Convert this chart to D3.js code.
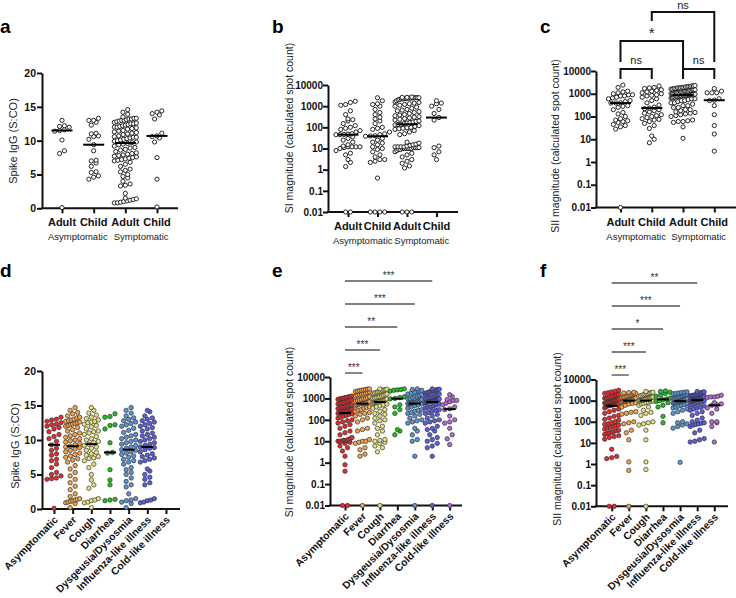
<!DOCTYPE html>
<html><head><meta charset="utf-8">
<script src="https://cdn.jsdelivr.net/npm/d3@7"></script>
<style>body{margin:0;background:#fff}svg{display:block}</style>
</head><body><svg id="c" width="736" height="598"></svg>
<script>
// ---------------- DATA ----------------
const groupKeys = ["asymAdult","asymChild","sympAdult","sympChild"];
const groupLabels = ["Adult","Child","Adult","Child"];
const statusLabels = ["Asymptomatic","Symptomatic"];
const symptoms = ["Asymptomatic","Fever","Cough","Diarrhea","Dysgeusia/Dysosmia","Influenza-like illness","Cold-like illness"];
const linearTicks = [0,5,10,15,20];
const logTicks = [0.01,0.1,1,10,100,1000,10000];

// panel a: Spike IgG (S:CO)
const aAsymAdult = [13.0,12.2,12.0,12.1,11.6,11.5,11.4,10.1,8.5,8.1,0.1];
const aAsymChild = [13.3,13.0,13.0,12.7,12.3,11.1,11.0,10.7,10.6,10.2,9.4,8.5,7.1,7.0,6.7,6.2,5.4,5.3,4.8,4.6,4.3];
const aSympAdult = [14.6,14.2,13.9,13.5,13.3,13.3,13.2,13.2,13.1,13.0,13.0,12.9,12.8,12.7,12.6,12.5,12.5,12.4,12.3,12.2,12.1,12.0,12.0,11.9,11.8,11.7,11.5,11.4,11.3,11.2,11.1,11.0,10.9,10.7,10.6,10.5,10.5,10.4,10.3,10.2,10.1,10.0,9.9,9.8,9.7,9.6,9.5,9.4,9.2,9.0,8.9,8.7,8.6,8.4,8.2,8.1,8.0,7.9,7.8,7.7,7.6,7.5,7.4,7.3,7.2,7.1,7.0,6.8,6.5,6.2,5.8,5.6,5.4,5.0,4.7,4.5,4.0,3.6,3.4,3.3,2.2,1.5,1.4,1.3,1.2,1.1,1.0,0.9,0.8,0.8];
const aSympChild = [14.4,14.2,14.0,13.8,13.2,11.1,10.7,10.6,10.4,9.8,7.5,4.3,0.2];

// panel b: SI magnitude
const bAsymAdult = [1700,1500,1200,1100,600,400,250,230,200,150,120,100,90,80,70,60,50,48,45,45,46,35,30,25,20,15,13,12,12,12,12,11,10,8,6,5,3,2.2,1.4,0.01,0.01];
const bAsymChild = [2500,1800,1300,1200,1000,700,500,400,300,250,200,150,100,90,80,60,50,45,40,38,39,30,25,20,18,15,12,10,9,7,5,4,3,3,2.5,2.2,0.4,0.01,0.01,0.01,0.01];
const bSympAdult = [2700,2600,2600,2500,2500,2500,2500,2500,2400,2400,2400,2300,2300,2200,2200,2100,2000,1800,1600,1500,1400,1300,1200,1100,1000,900,800,700,650,600,550,500,450,400,380,350,320,300,280,260,240,220,200,190,180,170,160,150,140,135,130,120,110,100,95,90,85,80,70,60,50,45,20,18,16,15,14,13,12,12,12,12,11,11,11,11,10,10,10,10,10,10,9,9,8,7,6,5,4,3,2.5,2,1.5,1.2,0.01,0.01,0.01];
const bSympChild = [1800,1400,1300,1000,700,450,290,220,13,11,7,5,3];

// panel c: SII magnitude
const cAsymAdult = [2400,1900,1300,1200,1100,1000,900,900,800,800,700,650,600,500,450,400,395,390,300,280,250,200,150,130,100,80,70,65,60,55,45,40,35,28,0.01];
const cAsymChild = [2200,1900,1800,1700,1500,1400,1300,1200,1100,1000,900,850,800,700,600,500,400,320,260,235,220,200,180,160,140,120,110,100,90,80,75,70,60,50,40,30,14,10,7];
const cSympAdult = [2300,2200,2200,2100,2100,2000,2000,1900,1900,1800,1800,1800,1700,1700,1600,1600,1500,1500,1500,1400,1400,1300,1300,1300,1300,1200,1200,1200,1100,1100,1100,1000,1000,1000,1000,950,950,950,900,900,900,900,850,850,850,800,800,800,750,750,700,700,650,650,600,600,550,500,500,450,400,400,350,300,300,250,250,200,200,180,160,150,140,130,120,110,100,70,65,60,60,55,35,11];
const cSympChild = [1700,1300,1100,1100,1100,600,520,500,300,120,40,17,3];
const cBracketLabels = ["ns","ns","*","ns"];

// panel d: Spike IgG by symptom
const dAsym = [13.3,13.0,12.9,12.7,12.5,12.3,12.2,12.0,11.8,11.6,11.2,10.8,10.5,10.2,9.8,9.3,8.8,8.5,8.0,7.8,7.2,7.0,6.5,6.0,5.3,5.0,4.8,4.5,4.4,4.3,0.1];
const dFever = [14.7,14.3,14.0,13.8,13.5,13.3,13.2,13.0,12.9,12.8,12.7,12.6,12.5,12.4,12.3,12.2,12.1,12.0,11.8,11.5,11.3,11.0,10.8,10.6,10.4,10.2,10.0,9.9,9.7,9.5,9.3,9.1,9.0,8.9,8.7,8.5,8.3,8.1,7.9,7.7,7.5,7.3,7.1,6.8,6.3,5.8,5.3,4.8,4.3,3.8,3.3,2.8,2.2,1.8,1.5,1.4,1.3,1.2,1.1,1.0,0.9,0.8,0.2];
const dCough = [14.7,14.3,13.9,13.6,13.3,13.1,12.9,12.7,12.6,12.5,12.3,12.1,11.9,11.6,11.3,11.2,11.0,10.8,10.5,10.2,10.0,9.8,9.6,9.4,9.2,9.0,8.8,8.5,8.2,8.0,7.8,7.6,7.4,7.3,7.0,6.5,6.0,5.0,4.2,3.5,3.0,1.5,1.3,1.2,1.0,0.9,0.2];
const dDiarrhea = [13.8,13.4,13.3,12.2,12.1,11.6,9.6,8.2,8.1,5.7,4.2,3.5,1.4,1.3,1.2];
const dDysg = [14.7,14.3,13.9,13.5,13.2,13.0,12.8,12.6,12.4,12.2,12.0,11.7,11.4,11.1,10.8,10.6,10.4,10.2,10.0,9.8,9.6,9.4,9.2,9.0,8.8,8.6,8.5,8.3,8.1,7.9,7.7,7.5,7.2,7.0,6.8,6.5,6.0,5.7,5.3,5.0,4.5,4.0,3.5,3.2,2.2,1.5,1.3,1.2,1.0,0.8,0.2];
const dInfl = [14.3,14.1,13.5,13.2,13.0,12.8,12.6,12.4,12.2,12.0,11.8,11.6,11.3,11.0,10.8,10.6,10.4,10.2,10.0,9.8,9.6,9.4,9.2,9.0,8.9,8.8,8.6,8.3,8.0,7.8,7.6,7.4,7.2,7.0,6.8,5.8,5.5,5.0,4.6,4.3,3.8,3.5,1.5,1.3,1.2,1.0,0.9];
const dCold = [];

// panel e: SI magnitude by symptom
const eAsym = [1300,1200,1200,1100,1100,1000,1000,950,900,850,800,750,700,650,600,600,550,500,500,450,450,400,400,380,350,330,320,300,300,280,270,260,250,240,230,210,200,190,180,160,150,130,120,100,90,80,70,60,50,40,30,25,20,15,13,12,11,11,11,10,10,10,9,8,6,5,3.5,2,0.8,0.4,0.01,0.01];
const eFever = [2800,2700,2600,2500,2400,2300,2200,2100,2000,1900,1800,1700,1600,1500,1400,1300,1200,1100,1000,950,900,850,800,750,700,680,650,620,600,580,570,550,520,500,450,400,380,350,300,280,250,220,200,180,150,120,100,80,40,35,30,12,10,10,9,8,5,4,2.5,2,0.01];
const eCough = [2800,2700,2600,2500,2400,2200,2100,2000,1900,1800,1700,1600,1500,1400,1300,1200,1150,1100,1050,1000,950,900,870,850,820,800,780,750,720,700,680,650,620,600,550,500,450,400,350,300,250,200,180,150,120,100,90,70,50,40,30,20,12,11,10,9,8,6,5,3.2,0.01];
const eDiarrhea = [2800,2600,2500,2400,2200,1200,1100,1000,950,500,400,300,200,35,30,20];
const eDysg = [2800,2600,2400,2200,2000,1800,1600,1500,1400,1300,1200,1100,1000,950,900,850,800,750,700,680,660,640,620,600,580,570,550,500,450,400,350,300,280,250,220,200,180,150,120,100,90,80,70,40,30,20,12,10,2,0.01];
const eInfl = [2800,2700,2600,2500,2400,2300,2200,2100,2000,1900,1800,1700,1600,1500,1400,1300,1200,1150,1100,1050,1000,950,900,880,860,840,820,800,780,760,740,720,710,700,690,680,660,640,600,550,500,450,400,380,350,300,280,250,220,200,180,150,120,100,90,80,70,50,40,35,30,20,15,12,10,8,6,5,2,0.01];
const eCold = [1500,1200,900,800,800,700,600,500,400,330,300,150,100,80,70,40,20,13,7,0.01];
const eSigTargets = ["Influenza-like illness","Dysgeusia/Dysosmia","Diarrhea","Cough","Fever"];
const eSigLabels = ["***","***","**","***","***"];

// panel f: SII magnitude by symptom
const fAsym = [3100,2800,2600,2400,2200,2000,1900,1800,1700,1600,1500,1400,1300,1300,1200,1200,1100,1100,1000,1000,950,900,900,850,850,800,800,750,750,700,700,680,660,650,640,620,600,590,580,560,500,450,400,350,300,250,200,180,150,130,120,100,90,80,75,70,65,60,55,50,45,40,38,35,32,30,28,25,22,20,18,15,5,2.3,2.0,1.8,0.01,0.01];
const fFever = [2500,2400,2300,2200,2100,2000,1900,1800,1700,1600,1500,1450,1400,1350,1300,1250,1200,1150,1100,1080,1050,1020,1000,980,950,900,850,800,750,700,600,500,300,280,250,230,100,90,80,40,30,14,1.26,0.5,0.01];
const fCough = [2700,2500,2400,2300,2200,2100,2000,1900,1800,1700,1600,1500,1450,1400,1350,1300,1250,1200,1150,1100,1050,1020,1000,980,950,900,850,800,750,700,600,500,350,280,250,200,100,90,80,70,40,14,1.26,0.55,0.01];
const fDiarrhea = [2900,2700,2500,2200,1800,1600,1300,1200,1100,1000,900,800,600,500,180,90];
const fDysg = [2600,2500,2400,2300,2200,2100,2000,1900,1800,1700,1600,1500,1400,1350,1300,1250,1200,1150,1100,1050,1000,980,950,920,900,850,800,750,700,650,600,550,500,450,400,350,300,250,100,90,80,70,60,50,1.2];
const fInfl = [2700,2600,2500,2400,2300,2200,2100,2000,1900,1850,1800,1750,1700,1650,1600,1550,1500,1450,1400,1350,1300,1250,1200,1180,1160,1140,1120,1100,1090,1080,1070,1060,1050,1000,950,900,850,800,750,700,650,600,550,500,450,400,350,300,250,200,150,120,100,90,85,80,75,70,60,40,30,16,14,12,11];
const fCold = [1800,1600,1500,1500,1400,800,700,650,600,450,400,250,100,100,90,60,11];
const fSigTargets = ["Influenza-like illness","Dysgeusia/Dysosmia","Diarrhea","Cough","Fever"];
const fSigLabels = ["**","***","*","***","***"];

const symptomColors = ["#e62a2e","#f4a24c","#e8e27c","#1ec31e","#5b95d8","#5a5ee6","#b468d6"];

// ---------------- DRAWING ----------------
const FONT = "Arial, 'Liberation Sans', Helvetica, sans-serif";
const svg = d3.select("#c").attr("font-family", FONT);

// Prism-like row scatter: points grouped in rows by pixel height, each row centred and compressed to a max half-width
function scatterRows(vals, y, cx, r, maxHalf){
  const binH = 2*r;
  const pts = vals.map(v => ({v, y: y(v)})).sort((a,b) => b.y - a.y);
  const rows = [];
  let cur = null;
  for (const p of pts){
    if (!cur || cur.y0 - p.y > binH){ cur = {y0: p.y, pts: []}; rows.push(cur); }
    cur.pts.push(p);
  }
  const out = [];
  for (const row of rows){
    const n = row.pts.length;
    const s = n > 1 ? Math.min(2*r + 0.6, 2*maxHalf/(n-1)) : 0;
    row.pts.forEach((p,j) => out.push({v:p.v, x: cx + (j - (n-1)/2)*s, y: p.y}));
  }
  return out;
}

function panel(c){
  const g = svg.append("g");
  const y = c.log ? d3.scaleLog().domain([0.01,10000]).range(c.yRange)
                  : d3.scaleLinear().domain([0,20]).range(c.yRange);
  const x = d3.scalePoint().domain(c.keys).range(c.xRange);
  const baseY = c.yRange[0];

  g.append("line").attr("x1", c.axisX - 1).attr("x2", c.axisEnd)
    .attr("y1", baseY).attr("y2", baseY).attr("stroke","#111").attr("stroke-width",2);
  const xg = g.append("g").attr("transform",`translate(0,${baseY})`)
    .call(d3.axisBottom(x).tickSize(5).tickSizeOuter(0).tickFormat(""));
  xg.select(".domain").remove();
  xg.selectAll(".tick line").attr("stroke","#111").attr("stroke-width",2);

  const yg = g.append("g").attr("transform",`translate(${c.axisX},0)`)
    .call(d3.axisLeft(y).tickValues(c.ticks).tickFormat(d => String(d)).tickSize(5).tickSizeOuter(0));
  yg.attr("font-family", FONT);
  yg.select(".domain").attr("stroke","#111").attr("stroke-width",2);
  yg.selectAll(".tick line").attr("stroke","#111").attr("stroke-width",2);
  yg.selectAll(".tick text").attr("x",c.log ? -5 : -6).attr("font-size",c.log ? 10 : 10.5).attr("font-weight","bold").attr("fill","#111");

  g.append("text").attr("transform",`translate(${c.titleX},${c.titleY}) rotate(-90)`)
    .attr("text-anchor","middle").attr("dy","0.35em").attr("font-size", c.titleSize)
    .attr("fill","#222").text(c.title);

  if (c.rotated){
    c.keys.forEach((k,i) => {
      g.append("text").attr("transform",`translate(${x(k)+4.5},${baseY+11.5}) rotate(-45)`)
        .attr("text-anchor","end").attr("font-size",10.3).attr("font-weight","bold").attr("fill","#111")
        .text(c.labels[i]);
    });
  } else {
    c.keys.forEach((k,i) => {
      g.append("text").attr("x", x(k)).attr("y", baseY + 18).attr("text-anchor","middle")
        .attr("font-size",11).attr("font-weight","bold").attr("fill","#111").text(c.labels[i]);
    });
    [[0,1],[2,3]].forEach((pair,j) => {
      g.append("text").attr("x", (x(c.keys[pair[0]]) + x(c.keys[pair[1]]))/2).attr("y", baseY + 32)
        .attr("text-anchor","middle").attr("font-size",9.5).attr("fill","#222").text(statusLabels[j]);
    });
  }

  c.series.forEach((vals,i) => {
    const pts = scatterRows(vals, y, x(c.keys[i]), c.r, c.maxHalf);
    g.append("g").selectAll("circle").data(pts).join("circle")
      .attr("cx", d => d.x).attr("cy", d => d.y).attr("r", c.r)
      .attr("fill", c.colors ? c.colors[i] : "#fff")
      .attr("stroke", c.colors ? "#333" : "#111").attr("stroke-width", c.colors ? 0.7 : 0.9);
    if (vals.length){
      const m = d3.median(vals);
      g.append("line").attr("x1", x(c.keys[i]) - c.medW/2).attr("x2", x(c.keys[i]) + c.medW/2)
        .attr("y1", y(m)).attr("y2", y(m)).attr("stroke","#000").attr("stroke-width",2);
    }
  });
  return {x, y, g};
}

const letters = [["a",0,33],["b",272,33],["c",540,33],["d",0,277],["e",272,277],["f",540,277]];
letters.forEach(([t,lx,ly]) => svg.append("text").attr("x",lx).attr("y",ly)
  .attr("font-size",19).attr("font-weight","bold").attr("fill","#000").text(t));

panel({keys: groupKeys, labels: groupLabels, log:false, ticks: linearTicks,
  yRange:[208.3,73], xRange:[62,157], axisX:42, axisEnd:178,
  series:[aAsymAdult,aAsymChild,aSympAdult,aSympChild], r:2.1, maxHalf:11, medW:21,
  title:"Spike IgG (S:CO)", titleX:13.5, titleY:141, titleSize:11});

panel({keys: groupKeys, labels: groupLabels, log:true, ticks: logTicks,
  yRange:[212,85], xRange:[348,436.5], axisX:328, axisEnd:458,
  series:[bAsymAdult,bAsymChild,bSympAdult,bSympChild], r:2.1, maxHalf:12, medW:21,
  title:"SI magnitude (calculated spot count)", titleX:289, titleY:128, titleSize:10.5});

const pc = panel({keys: groupKeys, labels: groupLabels, log:true, ticks: logTicks,
  yRange:[207.5,71], xRange:[620.5,714.3], axisX:596, axisEnd:740,
  series:[cAsymAdult,cAsymChild,cSympAdult,cSympChild], r:2.1, maxHalf:12, medW:21,
  title:"SII magnitude (calculated spot count)", titleX:555, titleY:146, titleSize:10.5});

(function(){
  const x = pc.x, g = pc.g;
  const X = k => x(groupKeys[k]);
  const br = [
    {a:0,b:1,top:69,la:79,lb:79,lab:cBracketLabels[0],ty:64},
    {a:2,b:3,top:69,la:79,lb:79,lab:cBracketLabels[1],ty:64},
    {a:0,b:2,top:41,la:62,lb:79,lab:cBracketLabels[2],ty:38},
    {a:1,b:3,top:12,la:21,lb:62,lab:cBracketLabels[3],ty:9}
  ];
  br.forEach(b => {
    g.append("path").attr("d",`M${X(b.a)},${b.la}V${b.top}H${X(b.b)}V${b.lb}`)
      .attr("fill","none").attr("stroke","#111").attr("stroke-width",2);
    g.append("text").attr("x",(X(b.a)+X(b.b))/2).attr("y",b.ty).attr("text-anchor","middle")
      .attr("font-size", b.lab === "*" ? 15 : 11).attr("fill","#222").text(b.lab);
  });
})();

panel({keys: symptoms, labels: symptoms, log:false, ticks: linearTicks, rotated:true,
  yRange:[509,371], xRange:[54,166], axisX:42, axisEnd:180, colors: symptomColors,
  series:[dAsym,dFever,dCough,dDiarrhea,dDysg,dInfl,dCold], r:2.2, maxHalf:7, medW:12,
  title:"Spike IgG (S:CO)", titleX:15, titleY:446, titleSize:11});

const pe = panel({keys: symptoms, labels: symptoms, log:true, ticks: logTicks, rotated:true,
  yRange:[505.5,377], xRange:[345,449.7], axisX:330, axisEnd:462, colors: symptomColors,
  series:[eAsym,eFever,eCough,eDiarrhea,eDysg,eInfl,eCold], r:2.2, maxHalf:7, medW:12,
  title:"SI magnitude (calculated spot count)", titleX:289, titleY:432, titleSize:10.5});

const pf = panel({keys: symptoms, labels: symptoms, log:true, ticks: logTicks, rotated:true,
  yRange:[506.3,379.5], xRange:[611.7,714.3], axisX:596, axisEnd:728, colors: symptomColors,
  series:[fAsym,fFever,fCough,fDiarrhea,fDysg,fInfl,fCold], r:2.2, maxHalf:7, medW:12,
  title:"SII magnitude (calculated spot count)", titleX:557, titleY:439, titleSize:10.5});

function sig(p, targets, labels, y0){
  targets.forEach((t,i) => {
    const yy = y0 + i*23;
    const x1 = p.x(symptoms[0]), x2 = p.x(t);
    p.g.append("line").attr("x1",x1).attr("x2",x2).attr("y1",yy).attr("y2",yy)
      .attr("stroke","#555").attr("stroke-width",1.4);
    p.g.append("text").attr("x",(x1+x2)/2).attr("y",yy-2).attr("text-anchor","middle")
      .attr("font-size",10).attr("fill","#333").text(labels[i]);
  });
}
sig(pe, eSigTargets, eSigLabels, 281);
sig(pf, fSigTargets, fSigLabels, 283);
</script></body></html>
